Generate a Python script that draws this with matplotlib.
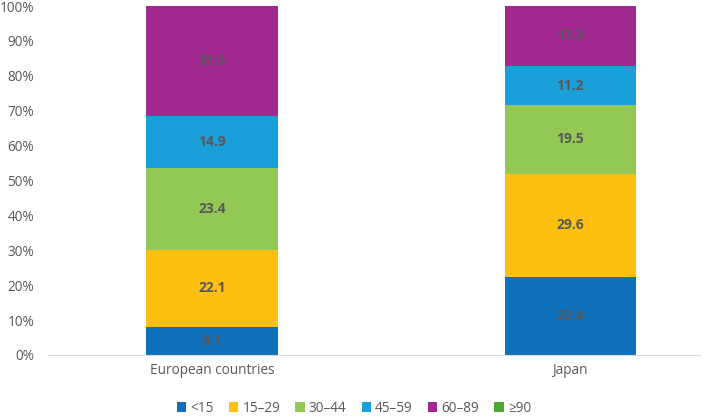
import matplotlib
matplotlib.use("Agg")
import matplotlib.pyplot as plt
from matplotlib.ticker import FuncFormatter

categories = ["European countries", "Japan"]
series_names = ["<15", "15\u201329", "30\u201344", "45\u201359", "60\u201389", "\u226590"]
values = {
    "<15": [8.1, 22.4],
    "15\u201329": [22.1, 29.6],
    "30\u201344": [23.4, 19.5],
    "45\u201359": [14.9, 11.2],
    "60\u201389": [31.5, 17.3],
    "\u226590": [0.0, 0.0],
}
colors = ["#1170BA", "#FDBF10", "#92C853", "#1A9FD8", "#A0288F", "#4EA72E"]

plt.rcParams['font.family'] = ['Open Sans', 'DejaVu Sans']
fig = plt.figure(figsize=(7.08, 4.2), dpi=100)
ax = fig.add_axes([48/708, 65/420, 652/708, 349/420])

x = [0, 1]
bottoms = [0.0, 0.0]
for name, c in zip(series_names, colors):
    v = values[name]
    ax.bar(x, v, bottom=bottoms, width=0.366, color=c, label=name, zorder=2)
    for xi, vi, bi in zip(x, v, bottoms):
        if vi > 0:
            ax.text(xi, bi + vi / 2, f"{vi:.1f}", ha="center", va="center",
                    fontsize=10, fontweight="bold", color="#595959", zorder=3)
    bottoms = [b + vi for b, vi in zip(bottoms, v)]

ax.set_xlim(-0.458, 1.363)
ax.set_ylim(0, 100)
ax.set_yticks(range(0, 101, 10))
ax.yaxis.set_major_formatter(FuncFormatter(lambda v, p: f"{int(v)}%"))
ax.set_xticks(x)
ax.set_xticklabels(categories)
ax.tick_params(axis="both", length=0, labelsize=9.8, colors="#595959")
ax.tick_params(axis="y", pad=10)
ax.tick_params(axis="x", pad=6)
for s in ["top", "right", "left"]:
    ax.spines[s].set_visible(False)
ax.spines["bottom"].set_color("#D9D9D9")

leg = fig.legend(loc="center", bbox_to_anchor=(0.5, 12/420), ncol=6, frameon=False,
                 fontsize=9.8, handlelength=0.7, handleheight=0.7, handletextpad=0.3,
                 columnspacing=1.1)
for t in leg.get_texts():
    t.set_color("#595959")

fig.savefig("out.png", dpi=100)
